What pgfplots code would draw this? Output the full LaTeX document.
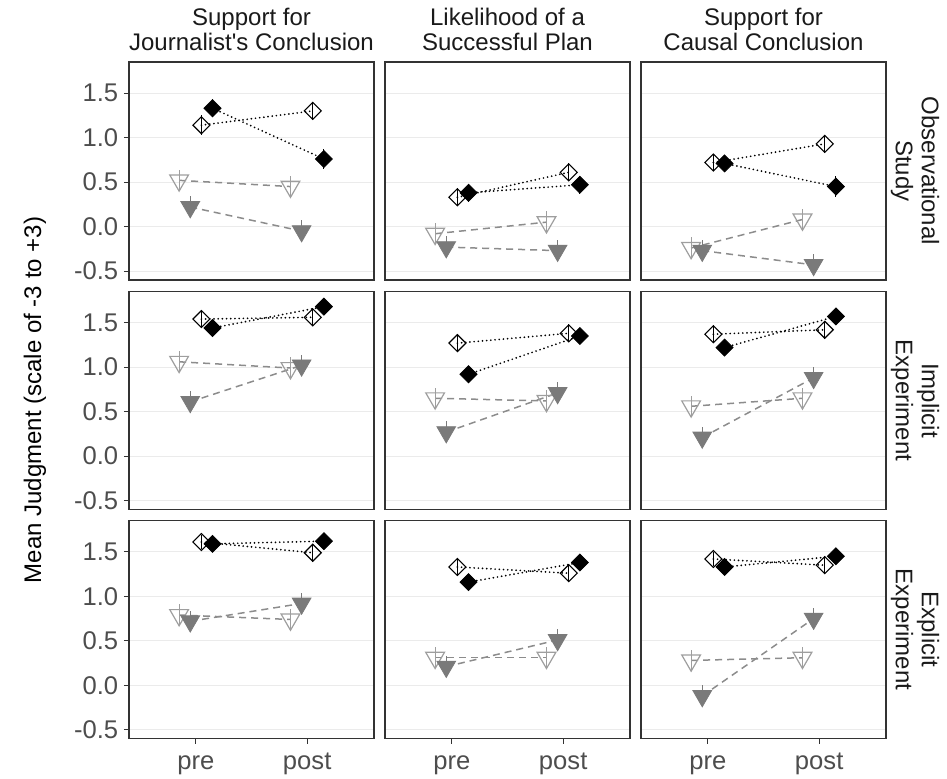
\documentclass[border=0pt]{standalone}
\usepackage{fontspec}
\setmainfont{Liberation Sans}
\newfontfamily\plainsans{Liberation Sans}
\usepackage{pgfplots}
\pgfplotsset{compat=1.18}
\definecolor{gridc}{HTML}{EBEBEB}
\definecolor{framec}{HTML}{333333}
\definecolor{tickc}{HTML}{4D4D4D}
\definecolor{stripc}{HTML}{1A1A1A}
\definecolor{trifill}{HTML}{7A7A7A}
\definecolor{triopen}{HTML}{9E9E9E}
\definecolor{dashc}{HTML}{8C8C8C}
\pgfplotsset{
  panel/.style={
    scale only axis, width=122.5pt, height=109pt,
    xmin=0.4, xmax=2.6, ymin=-0.6, ymax=1.85,
    anchor=north west, clip=false,
    axis line style={draw=framec, line width=0.6pt},
    ymajorgrids, major grid style={draw=gridc, line width=0.6pt},
    ytick={-0.5,0,0.5,1,1.5}, xtick={1,2},
    xticklabels={}, yticklabels={},
    tick pos=left, tick align=outside, major tick length=2.6pt,
    xtick style={draw=none}, ytick style={draw=none},
    ticklabel style={font=\fontsize{12.8}{14}\selectfont, text=tickc},
    yticklabel style={inner xsep=2.6pt},
    xticklabel style={text height=6.8pt, text depth=2.6pt, anchor=north, yshift=-2.6pt},
  },
  leftcol/.style={yticklabels={-0.5,0.0,0.5,1.0,1.5}, ytick style={draw=framec, line width=0.55pt}},
  bottomrow/.style={xticklabels={pre,post}, xtick style={draw=framec, line width=0.55pt}},
  otri/.style={draw=dashc, line width=0.75pt, dash pattern=on 3.5pt off 2.5pt,
    mark=triangle, mark size=5.4pt, mark options={solid, rotate=180, draw=triopen, line width=0.6pt},
    error bars/.cd, y dir=both, y explicit, error mark=none,
    error bar style={solid, draw=triopen, line width=0.6pt}},
  ftri/.style={draw=dashc, line width=0.75pt, dash pattern=on 3.5pt off 2.5pt,
    mark=triangle*, mark size=5.4pt, mark options={solid, rotate=180, draw=trifill, fill=trifill, line width=0.4pt},
    error bars/.cd, y dir=both, y explicit, error mark=none,
    error bar style={solid, draw=trifill, line width=0.6pt}},
  odia/.style={draw=black, line width=0.95pt, line cap=round, dash pattern=on 0pt off 2.1pt,
    mark=square, mark size=3pt, mark options={solid, rotate=45, draw=black, line width=0.55pt},
    error bars/.cd, y dir=both, y explicit, error mark=none,
    error bar style={solid, draw=black, line width=0.6pt, line cap=butt}},
  fdia/.style={draw=black, line width=0.95pt, line cap=round, dash pattern=on 0pt off 2.1pt,
    mark=square*, mark size=3pt, mark options={solid, rotate=45, draw=black, fill=black, line width=0.4pt},
    error bars/.cd, y dir=both, y explicit, error mark=none,
    error bar style={solid, draw=black, line width=0.6pt, line cap=butt}},
}
\begin{document}
\begin{tikzpicture}
\path[use as bounding box] (0,0) rectangle (473.5pt,389pt);
% ---------- Row 1 ----------
\begin{axis}[panel, leftcol, at={(64.5pt,358pt)}]
\addplot[otri] coordinates {(0.85,0.52) +- (0,0.12) (1.85,0.45) +- (0,0.12)};
\addplot[ftri] coordinates {(0.95,0.22) +- (0,0.12) (1.95,-0.05) +- (0,0.12)};
\addplot[odia] coordinates {(1.05,1.14) +- (0,0.11) (2.05,1.30) +- (0,0.10)};
\addplot[fdia] coordinates {(1.15,1.33) +- (0,0.10) (2.15,0.76) +- (0,0.11)};
\end{axis}
\begin{axis}[panel, at={(192.5pt,358pt)}]
\addplot[otri] coordinates {(0.85,-0.08) +- (0,0.12) (1.85,0.05) +- (0,0.12)};
\addplot[ftri] coordinates {(0.95,-0.23) +- (0,0.12) (1.95,-0.27) +- (0,0.12)};
\addplot[odia] coordinates {(1.05,0.33) +- (0,0.10) (2.05,0.61) +- (0,0.10)};
\addplot[fdia] coordinates {(1.15,0.38) +- (0,0.10) (2.15,0.47) +- (0,0.10)};
\end{axis}
\begin{axis}[panel, at={(320.5pt,358pt)}]
\addplot[otri] coordinates {(0.85,-0.24) +- (0,0.12) (1.85,0.08) +- (0,0.12)};
\addplot[ftri] coordinates {(0.95,-0.27) +- (0,0.12) (1.95,-0.43) +- (0,0.12)};
\addplot[odia] coordinates {(1.05,0.72) +- (0,0.10) (2.05,0.93) +- (0,0.10)};
\addplot[fdia] coordinates {(1.15,0.71) +- (0,0.10) (2.15,0.45) +- (0,0.12)};
\end{axis}
% ---------- Row 2 ----------
\begin{axis}[panel, leftcol, at={(64.5pt,243.25pt)}]
\addplot[otri] coordinates {(0.85,1.06) +- (0,0.12) (1.85,0.99) +- (0,0.12)};
\addplot[ftri] coordinates {(0.95,0.61) +- (0,0.12) (1.95,1.02) +- (0,0.12)};
\addplot[odia] coordinates {(1.05,1.54) +- (0,0.10) (2.05,1.56) +- (0,0.10)};
\addplot[fdia] coordinates {(1.15,1.44) +- (0,0.10) (2.15,1.68) +- (0,0.08)};
\end{axis}
\begin{axis}[panel, at={(192.5pt,243.25pt)}]
\addplot[otri] coordinates {(0.85,0.65) +- (0,0.12) (1.85,0.62) +- (0,0.12)};
\addplot[ftri] coordinates {(0.95,0.27) +- (0,0.12) (1.95,0.71) +- (0,0.12)};
\addplot[odia] coordinates {(1.05,1.27) +- (0,0.10) (2.05,1.38) +- (0,0.10)};
\addplot[fdia] coordinates {(1.15,0.92) +- (0,0.08) (2.15,1.35) +- (0,0.08)};
\end{axis}
\begin{axis}[panel, at={(320.5pt,243.25pt)}]
\addplot[otri] coordinates {(0.85,0.56) +- (0,0.12) (1.85,0.65) +- (0,0.12)};
\addplot[ftri] coordinates {(0.95,0.21) +- (0,0.12) (1.95,0.88) +- (0,0.12)};
\addplot[odia] coordinates {(1.05,1.37) +- (0,0.10) (2.05,1.42) +- (0,0.10)};
\addplot[fdia] coordinates {(1.15,1.22) +- (0,0.10) (2.15,1.57) +- (0,0.08)};
\end{axis}
% ---------- Row 3 ----------
\begin{axis}[panel, leftcol, bottomrow, at={(64.5pt,128.65pt)}]
\addplot[otri] coordinates {(0.85,0.79) +- (0,0.12) (1.85,0.74) +- (0,0.12)};
\addplot[ftri] coordinates {(0.95,0.72) +- (0,0.12) (1.95,0.92) +- (0,0.12)};
\addplot[odia] coordinates {(1.05,1.61) +- (0,0.08) (2.05,1.49) +- (0,0.10)};
\addplot[fdia] coordinates {(1.15,1.59) +- (0,0.08) (2.15,1.62) +- (0,0.08)};
\end{axis}
\begin{axis}[panel, bottomrow, at={(192.5pt,128.65pt)}]
\addplot[otri] coordinates {(0.85,0.31) +- (0,0.12) (1.85,0.31) +- (0,0.12)};
\addplot[ftri] coordinates {(0.95,0.21) +- (0,0.12) (1.95,0.51) +- (0,0.12)};
\addplot[odia] coordinates {(1.05,1.33) +- (0,0.10) (2.05,1.26) +- (0,0.10)};
\addplot[fdia] coordinates {(1.15,1.16) +- (0,0.08) (2.15,1.38) +- (0,0.08)};
\end{axis}
\begin{axis}[panel, bottomrow, at={(320.5pt,128.65pt)}]
\addplot[otri] coordinates {(0.85,0.28) +- (0,0.12) (1.85,0.31) +- (0,0.12)};
\addplot[ftri] coordinates {(0.95,-0.12) +- (0,0.12) (1.95,0.75) +- (0,0.12)};
\addplot[odia] coordinates {(1.05,1.42) +- (0,0.08) (2.05,1.35) +- (0,0.10)};
\addplot[fdia] coordinates {(1.15,1.33) +- (0,0.08) (2.15,1.45) +- (0,0.08)};
\end{axis}
% ---------- strips ----------
\begin{scope}[every node/.style={font=\fontsize{12}{13}\selectfont, text=stripc, anchor=base, inner sep=0pt}]
\node at (125.75pt,376pt) {Support for};
\node at (125.75pt,363.5pt) {\plainsans Journalist's Conclusion};
\node at (253.75pt,376pt) {Likelihood of a};
\node at (253.75pt,363.5pt) {Successful Plan};
\node at (381.75pt,376pt) {Support for};
\node at (381.75pt,363.5pt) {Causal Conclusion};
\end{scope}
\begin{scope}[every node/.style={font=\fontsize{12}{13}\selectfont, text=stripc, align=center, rotate=-90, inner sep=0pt}]
\node at (457.5pt,303.5pt) {Observational\\Study};
\node at (457.5pt,188.75pt) {Implicit\\Experiment};
\node at (457.5pt,74.2pt) {Explicit\\Experiment};
\end{scope}
\node[font=\fontsize{12}{14}\selectfont, rotate=90, inner sep=0pt] at (17.5pt,189pt) {Mean Judgment (scale of -3 to +3)};
\end{tikzpicture}
\end{document}
